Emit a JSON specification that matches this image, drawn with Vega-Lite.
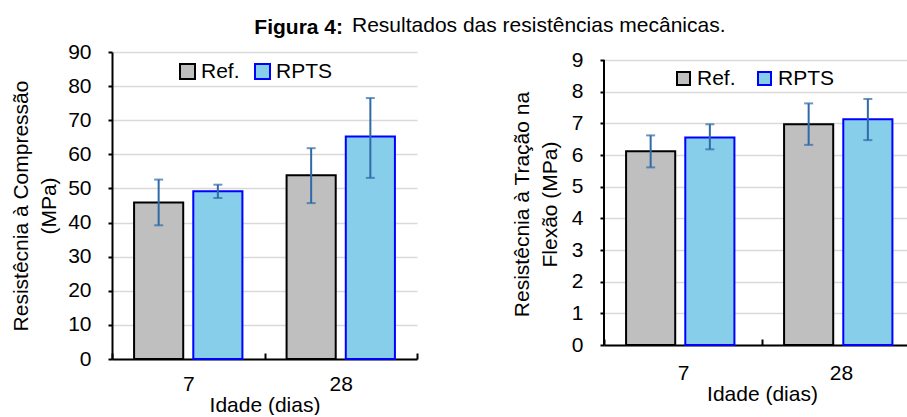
{
  "$schema": "https://vega.github.io/schema/vega-lite/v6.json",
  "padding": {"left": 10, "top": 15, "right": 0, "bottom": 0},
  "background": "white",
  "datasets": {
    "compressao": [
      {"idade": "7", "serie": "Ref.", "valor": 45.9, "min": 39.2, "max": 52.6},
      {"idade": "7", "serie": "RPTS", "valor": 49.2, "min": 47.2, "max": 51.1},
      {"idade": "28", "serie": "Ref.", "valor": 53.9, "min": 45.7, "max": 61.8},
      {"idade": "28", "serie": "RPTS", "valor": 65.2, "min": 53.1, "max": 76.5}
    ],
    "flexao": [
      {"idade": "7", "serie": "Ref.", "valor": 6.12, "min": 5.61, "max": 6.62},
      {"idade": "7", "serie": "RPTS", "valor": 6.55, "min": 6.18, "max": 6.97},
      {"idade": "28", "serie": "Ref.", "valor": 6.97, "min": 6.32, "max": 7.63},
      {"idade": "28", "serie": "RPTS", "valor": 7.13, "min": 6.47, "max": 7.77}
    ]
  },
  "config": {
    "font": "Liberation Sans",
    "view": {"stroke": null},
    "axis": {
      "labelFont": "Liberation Sans", "labelFontSize": 21, "labelColor": "#000",
      "titleFont": "Liberation Sans", "titleFontSize": 21, "titleFontWeight": "normal", "titleColor": "#000",
      "domainColor": "#000", "domainWidth": 2, "tickColor": "#000", "tickWidth": 2
    },
    "axisY": {"labelOverlap": false},
    "legend": {"labelFont": "Liberation Sans", "labelFontSize": 21, "labelColor": "#000"},
    "title": {"font": "Liberation Sans", "fontSize": 21, "color": "#000"}
  },
  "spacing": -66,
  "resolve": {"legend": {"fill": "independent", "stroke": "independent"}, "scale": {"fill": "independent", "stroke": "independent"}},
  "hconcat": [
    {
      "width": 305, "height": 307,
      "title": {"text": "Figura 4:", "fontWeight": "bold", "anchor": "end", "frame": "group", "dx": -74, "offset": 3},
      "data": {"name": "compressao"},
      "layer": [
        {
          "mark": {"type": "bar", "strokeWidth": 2},
          "encoding": {
            "x": {"field": "idade", "type": "nominal", "sort": ["7", "28"],
                  "scale": {"paddingInner": 0, "paddingOuter": 0},
                  "axis": {"title": "Idade (dias)", "labelAngle": 0, "tickBand": "extent", "tickSize": -6, "labelPadding": 20, "titlePadding": 0, "grid": false}},
            "xOffset": {"field": "serie", "type": "nominal", "sort": ["Ref.", "RPTS"], "scale": {"paddingInner": 0.17, "paddingOuter": 0.373}},
            "y": {"field": "valor", "type": "quantitative", "scale": {"domain": [0, 90], "nice": false},
                  "axis": {"title": ["Resistêcnia à Compressão", "(MPa)"], "values": [0,10,20,30,40,50,60,70,80,90], "tickCount": 10, "tickSize": 4, "labelPadding": 17, "titlePadding": 8, "titleLineHeight": 28, "gridColor": "#d9d9d9", "gridWidth": 1.5}},
            "fill": {"field": "serie", "type": "nominal", "sort": ["Ref.", "RPTS"], "scale": {"domain": ["Ref.", "RPTS"], "range": ["#bfbfbf", "#87ceeb"]},
                     "legend": {"title": null, "orient": "none", "legendX": 65, "legendY": 9, "direction": "horizontal", "symbolType": "square", "symbolSize": 225, "symbolStrokeWidth": 2, "labelOffset": 3, "columnPadding": 11, "symbolOpacity": 1}},
            "stroke": {"field": "serie", "type": "nominal", "sort": ["Ref.", "RPTS"], "scale": {"domain": ["Ref.", "RPTS"], "range": ["#000000", "#0000ff"]}, "legend": {"title": null, "orient": "none", "legendX": 65, "legendY": 9, "direction": "horizontal"}}
          }
        },
        {
          "mark": {"type": "rule", "color": "#2e6aa6", "strokeWidth": 2},
          "encoding": {
            "x": {"field": "idade", "type": "nominal", "sort": ["7", "28"]},
            "xOffset": {"field": "serie", "type": "nominal", "sort": ["Ref.", "RPTS"]},
            "y": {"field": "min", "type": "quantitative",
                  "axis": {"title": ["Resistêcnia à Compressão", "(MPa)"], "values": [0,10,20,30,40,50,60,70,80,90], "tickCount": 10, "tickSize": 4, "labelPadding": 17, "titlePadding": 8, "titleLineHeight": 28, "gridColor": "#d9d9d9", "gridWidth": 1.5}},
            "y2": {"field": "max"}}
        },
        {
          "mark": {"type": "tick", "color": "#2e6aa6", "thickness": 2, "size": 9},
          "encoding": {
            "x": {"field": "idade", "type": "nominal", "sort": ["7", "28"]},
            "xOffset": {"field": "serie", "type": "nominal", "sort": ["Ref.", "RPTS"]},
            "y": {"field": "min", "type": "quantitative",
                  "axis": {"title": ["Resistêcnia à Compressão", "(MPa)"], "values": [0,10,20,30,40,50,60,70,80,90], "tickCount": 10, "tickSize": 4, "labelPadding": 17, "titlePadding": 8, "titleLineHeight": 28, "gridColor": "#d9d9d9", "gridWidth": 1.5}}}
        },
        {
          "mark": {"type": "tick", "color": "#2e6aa6", "thickness": 2, "size": 9},
          "encoding": {
            "x": {"field": "idade", "type": "nominal", "sort": ["7", "28"]},
            "xOffset": {"field": "serie", "type": "nominal", "sort": ["Ref.", "RPTS"]},
            "y": {"field": "max", "type": "quantitative",
                  "axis": {"title": ["Resistêcnia à Compressão", "(MPa)"], "values": [0,10,20,30,40,50,60,70,80,90], "tickCount": 10, "tickSize": 4, "labelPadding": 17, "titlePadding": 8, "titleLineHeight": 28, "gridColor": "#d9d9d9", "gridWidth": 1.5}}}
        }
      ]
    },
    {
      "width": 316, "height": 293,
      "title": {"text": "Resultados das resistências mecânicas.", "fontWeight": "normal", "anchor": "start", "frame": "group", "dx": -252, "offset": 13},
      "data": {"name": "flexao"},
      "layer": [
        {
          "mark": {"type": "bar", "strokeWidth": 2},
          "encoding": {
            "x": {"field": "idade", "type": "nominal", "sort": ["7", "28"],
                  "scale": {"paddingInner": 0, "paddingOuter": 0},
                  "axis": {"title": "Idade (dias)", "labelAngle": 0, "tickBand": "extent", "tickSize": -6, "labelPadding": 23, "titlePadding": 0, "grid": false}},
            "xOffset": {"field": "serie", "type": "nominal", "sort": ["Ref.", "RPTS"], "scale": {"paddingInner": 0.18, "paddingOuter": 0.377}},
            "y": {"field": "valor", "type": "quantitative", "scale": {"domain": [0, 9.253], "nice": false},
                  "axis": {"title": ["Resistêcnia à Tração na", "Flexão (MPa)"], "values": [0,1,2,3,4,5,6,7,8,9], "tickCount": 10, "domain": false, "tickSize": 4, "labelPadding": 17, "titlePadding": 11, "titleY": 152, "titleLineHeight": 28, "gridColor": "#d9d9d9", "gridWidth": 1.5}},
            "fill": {"field": "serie", "type": "nominal", "sort": ["Ref.", "RPTS"], "scale": {"domain": ["Ref.", "RPTS"], "range": ["#bfbfbf", "#87ceeb"]},
                     "legend": {"title": null, "orient": "none", "legendX": 69, "legendY": 16, "direction": "horizontal", "symbolType": "square", "symbolSize": 169, "symbolStrokeWidth": 2, "labelOffset": 3, "columnPadding": 18, "symbolOpacity": 1}},
            "stroke": {"field": "serie", "type": "nominal", "sort": ["Ref.", "RPTS"], "scale": {"domain": ["Ref.", "RPTS"], "range": ["#000000", "#0000ff"]}, "legend": {"title": null, "orient": "none", "legendX": 69, "legendY": 16, "direction": "horizontal"}}
          }
        },
        {
          "mark": {"type": "rule", "color": "#000000", "strokeWidth": 2},
          "encoding": {
            "x": {"datum": "7", "type": "nominal", "bandPosition": 0},
            "y": {"datum": 0, "type": "quantitative",
                  "axis": {"title": ["Resistêcnia à Tração na", "Flexão (MPa)"], "values": [0,1,2,3,4,5,6,7,8,9], "tickCount": 10, "domain": false, "tickSize": 4, "labelPadding": 17, "titlePadding": 11, "titleY": 152, "titleLineHeight": 28, "gridColor": "#d9d9d9", "gridWidth": 1.5}},
            "y2": {"datum": 9}}
        },
        {
          "mark": {"type": "rule", "color": "#2e6aa6", "strokeWidth": 2},
          "encoding": {
            "x": {"field": "idade", "type": "nominal", "sort": ["7", "28"]},
            "xOffset": {"field": "serie", "type": "nominal", "sort": ["Ref.", "RPTS"]},
            "y": {"field": "min", "type": "quantitative",
                  "axis": {"title": ["Resistêcnia à Tração na", "Flexão (MPa)"], "values": [0,1,2,3,4,5,6,7,8,9], "tickCount": 10, "domain": false, "tickSize": 4, "labelPadding": 17, "titlePadding": 11, "titleY": 152, "titleLineHeight": 28, "gridColor": "#d9d9d9", "gridWidth": 1.5}},
            "y2": {"field": "max"}}
        },
        {
          "mark": {"type": "tick", "color": "#2e6aa6", "thickness": 2, "size": 9},
          "encoding": {
            "x": {"field": "idade", "type": "nominal", "sort": ["7", "28"]},
            "xOffset": {"field": "serie", "type": "nominal", "sort": ["Ref.", "RPTS"]},
            "y": {"field": "min", "type": "quantitative",
                  "axis": {"title": ["Resistêcnia à Tração na", "Flexão (MPa)"], "values": [0,1,2,3,4,5,6,7,8,9], "tickCount": 10, "domain": false, "tickSize": 4, "labelPadding": 17, "titlePadding": 11, "titleY": 152, "titleLineHeight": 28, "gridColor": "#d9d9d9", "gridWidth": 1.5}}}
        },
        {
          "mark": {"type": "tick", "color": "#2e6aa6", "thickness": 2, "size": 9},
          "encoding": {
            "x": {"field": "idade", "type": "nominal", "sort": ["7", "28"]},
            "xOffset": {"field": "serie", "type": "nominal", "sort": ["Ref.", "RPTS"]},
            "y": {"field": "max", "type": "quantitative",
                  "axis": {"title": ["Resistêcnia à Tração na", "Flexão (MPa)"], "values": [0,1,2,3,4,5,6,7,8,9], "tickCount": 10, "domain": false, "tickSize": 4, "labelPadding": 17, "titlePadding": 11, "titleY": 152, "titleLineHeight": 28, "gridColor": "#d9d9d9", "gridWidth": 1.5}}}
        }
      ]
    }
  ]
}
